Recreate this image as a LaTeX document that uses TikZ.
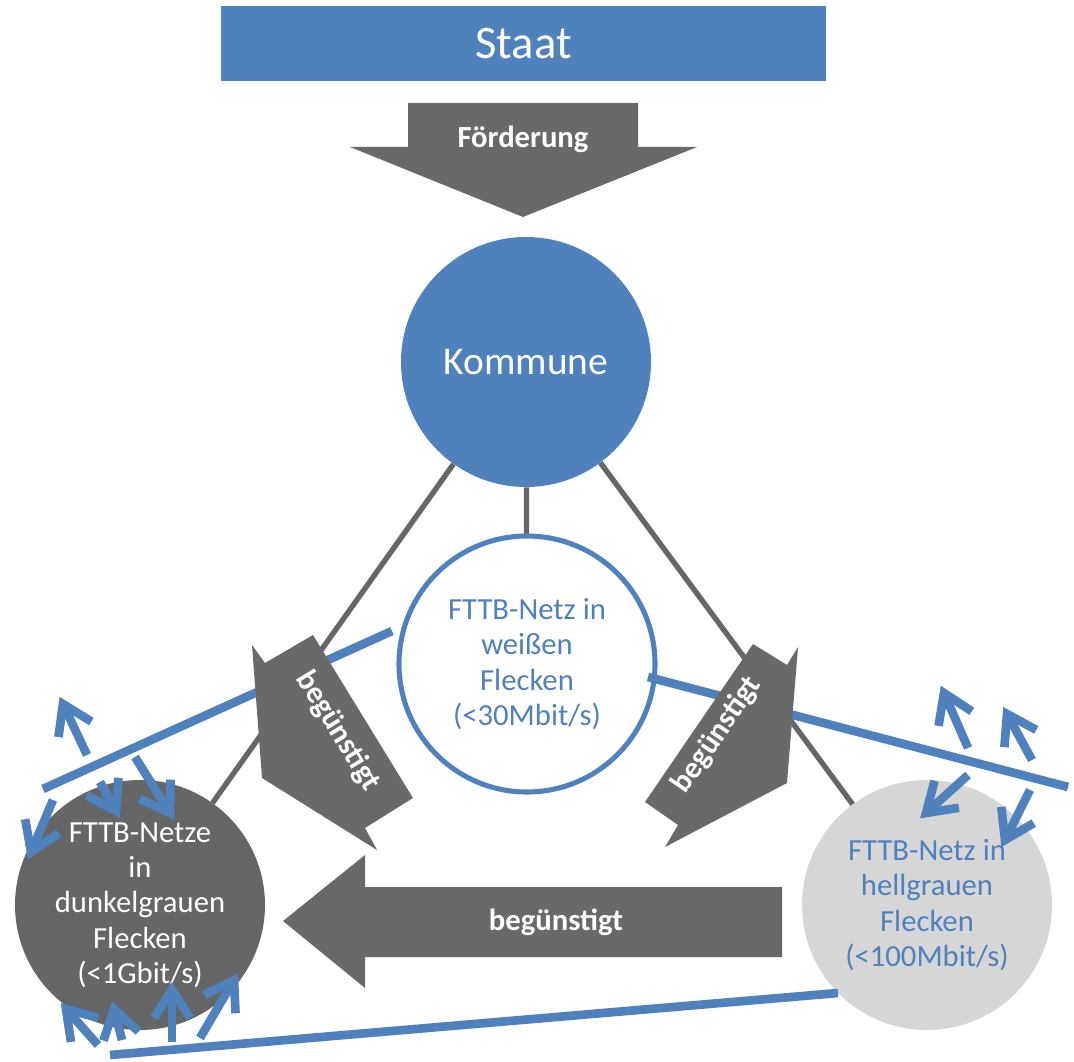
\documentclass[tikz,border=0pt]{standalone}
\usepackage{fontspec}
\setmainfont{Carlito}
\usetikzlibrary{calc}
\definecolor{kblue}{RGB}{79,129,189}
\definecolor{agray}{RGB}{105,105,105}
\definecolor{cgray}{RGB}{102,102,102}
\definecolor{lgray}{RGB}{214,214,214}
\begin{document}
\begin{tikzpicture}[x=0.75pt,y=-0.75pt,
  conn/.style={cgray, line width=4pt},
  bline/.style={kblue, line width=6.5pt},
  barbline/.style={kblue, line width=6.5pt, line join=miter},
  blockarrow/.style={fill=agray},
  arrowtext/.style={text=white, font=\bfseries\fontsize{23}{27}\selectfont, inner sep=0pt},
  circtext/.style={align=center, inner sep=0pt, font=\fontsize{23}{26.5}\selectfont},
  bigcircle/.style={circle, inner sep=0pt, minimum size=187.5pt}
]
\useasboundingbox (0,0) rectangle (1074,1062);

% Staat
\node[fill=kblue, text=white, inner sep=0pt, minimum width=453.75pt, minimum height=56.25pt,
      font=\fontsize{35}{42}\selectfont] (staat) at (523.5,43.5) {Staat};

% Foerderung arrow
\fill[blockarrow] (408,103) -- (638,103) -- (638,147) -- (697,147) -- (523,217) -- (350,147) -- (408,147) -- cycle;
\node[arrowtext] (foerd) at (523,139) {Förderung};

% circles
\node[bigcircle, fill=kblue, text=white, font=\fontsize{29.5}{35}\selectfont] (kommune) at (526,362) {Kommune};
\node[circle, inner sep=0pt, minimum size=192pt] (white) at (527,664) {};
\node[bigcircle, fill=cgray] (dark) at (140,905) {};
\node[bigcircle, fill=lgray] (light) at (927,905) {};

% gray connectors
\draw[conn] (kommune) -- (dark);
\draw[conn] (kommune) -- (white);
\draw[conn] (kommune) -- (light);

% white circle on top of connectors
\node[circle, inner sep=0pt, minimum size=192pt, draw=kblue, line width=3.8pt, fill=white] (whiteface) at (white.center) {};

% blue lines
\coordinate (l1a) at (43,789);
\coordinate (l1b) at (392,631);
\coordinate (l2a) at (648,677);
\coordinate (l2b) at (1068,787);
\coordinate (l3a) at (110,1055);
\coordinate (l3b) at (838,993);
\draw[bline] (l1a) -- (l1b);
\draw[bline] (l2a) -- (l2b);
\draw[bline] (l3a) -- (l3b);

% diagonal block arrows
\fill[blockarrow] (252,645) -- (265,663) -- (313,635) -- (413,798) -- (365,828) -- (377,850) -- (262,778) -- cycle;
\node[arrowtext, rotate=-58.5] (begl) at (338,731) {begünstigt};
\fill[blockarrow] (798,647) -- (787,665) -- (753,644) -- (645,802) -- (678,825) -- (665,847) -- (787,783) -- cycle;
\node[arrowtext, rotate=55.6] (begr) at (717,735) {begünstigt};

% bottom block arrow
\fill[blockarrow] (782,887) -- (365,887) -- (365,855) -- (283,921) -- (365,988) -- (365,957) -- (782,957) -- cycle;
\node[arrowtext] (begb) at (556,922) {begünstigt};

% circle texts
\node[circtext, text=kblue] (whitetext) at (white.center) {FTTB-Netz in\\weißen\\Flecken\\(<30Mbit/s)};
\node[circtext, text=white] (darktext) at (dark.center) {FTTB-Netze\\in\\dunkelgrauen\\Flecken\\(<1Gbit/s)};
\node[circtext, text=kblue] (lighttext) at (light.center) {FTTB-Netz in\\hellgrauen\\Flecken\\(<100Mbit/s)};

% small blue arrows: tail and tip coordinates
\coordinate (a1s) at (87,755);  \coordinate (a1e) at (63,704);
\coordinate (a2s) at (135,757); \coordinate (a2e) at (170,813);
\coordinate (a3s) at (100,782); \coordinate (a3e) at (116,811);
\coordinate (a4s) at (53,800);  \coordinate (a4e) at (31,852);
\coordinate (a5s) at (98,1045); \coordinate (a5e) at (66,1009);
\coordinate (a6s) at (122,1040); \coordinate (a6e) at (114,1009);
\coordinate (a7s) at (172,1042); \coordinate (a7e) at (172,990);
\coordinate (a8s) at (200,1038); \coordinate (a8e) at (234,980);
\coordinate (b1s) at (968,748);  \coordinate (b1e) at (944,693);
\coordinate (b2s) at (1032,760); \coordinate (b2e) at (1007,714);
\coordinate (b3s) at (968,775);  \coordinate (b3e) at (926,813);
\coordinate (b4s) at (1030,790); \coordinate (b4e) at (1005,840);
\foreach \p in {a1,a2,a3,a4,a5,a6,a7,a8,b1,b2,b3,b4} {
  \draw[barbline] (\p s) -- (\p e);
  \draw[barbline] ($(\p e)!25pt!33:(\p s)$) -- (\p e) -- ($(\p e)!25pt!-33:(\p s)$);
}
\end{tikzpicture}
\end{document}
